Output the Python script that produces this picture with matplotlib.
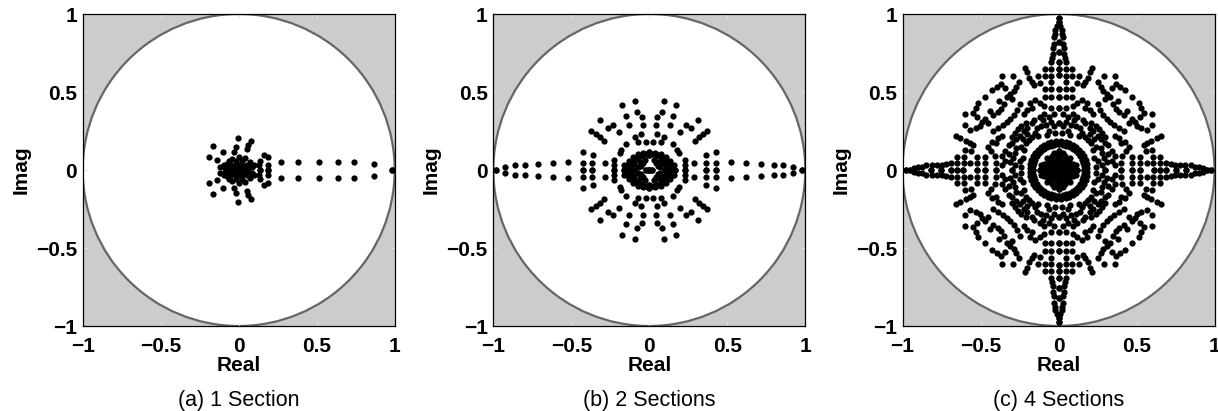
import numpy as np
import matplotlib
matplotlib.use("Agg")
import matplotlib.pyplot as plt
from matplotlib.patches import Circle

plt.rcParams['font.family'] = ['Liberation Sans', 'DejaVu Sans']

# ---------------- data ----------------
# Panel (a): poles with Imag >= 0 (conjugates are mirrored)
a_re = [0.271, 0.382, 0.515, 0.637, 0.739, 0.865, 0.985,
        -0.006, 0.077, 0.062, 0.051, -0.017, -0.162, -0.028, -0.103, -0.188,
        -0.141, -0.092, -0.120, 0.137, 0.190, 0.132, 0.190, 0.190, 0.137,
        0.035, 0.025, 0.000, -0.025, -0.035,
        0.060, 0.050, 0.020, -0.020, -0.050, -0.060,
        0.085, 0.070, 0.040, 0.000, -0.045, -0.075, -0.085,
        0.010, -0.010, 0.000, 0.100, -0.065, 0.165]
a_im = [0.053, 0.053, 0.053, 0.053, 0.053, 0.040, 0.000,
        0.205, 0.188, 0.162, 0.137, 0.145, 0.152, 0.115, 0.115, 0.081,
        0.066, 0.034, 0.017, 0.056, 0.081, 0.030, 0.034, 0.002, 0.002,
        0.005, 0.025, 0.035, 0.025, 0.005,
        0.010, 0.035, 0.057, 0.057, 0.035, 0.010,
        0.020, 0.050, 0.075, 0.085, 0.070, 0.040, 0.010,
        0.012, 0.012, 0.000, 0.030, 0.060, 0.098]

# Panel (b): poles in the first quadrant (pattern is symmetric in both axes)
b_re = [0.094, 0.173, 0.079, 0.152, 0.047, 0.314, 0.130, 0.233, 0.265, 0.040,
        0.372, 0.344, 0.318, 0.195, 0.051, 0.094, 0.293, 0.179, 0.190, 0.073,
        0.024, 0.426, 0.361, 0.150,
        0.521, 0.618, 0.714, 0.799, 0.859, 0.923, 0.980,
        0.426, 0.365, 0.426, 0.365, 0.286, 0.229, 0.229, 0.229,
        0.150, 0.145, 0.130, 0.106, 0.075, 0.039, 0.000,
        0.100, 0.095, 0.075, 0.045, 0.020,
        0.070, 0.060, 0.030, 0.000, 0.020, 0.125, 0.160,
        0.055, 0.040, 0.120, 0.115, 0.100, 0.075, 0.040, 0.000, 0.165]
b_im = [0.442, 0.417, 0.372, 0.348, 0.338, 0.320, 0.288, 0.288, 0.271, 0.288,
        0.252, 0.231, 0.214, 0.246, 0.231, 0.214, 0.186, 0.128, 0.111, 0.180,
        0.180, 0.113, 0.094, 0.165,
        0.049, 0.047, 0.038, 0.034, 0.030, 0.021, 0.000,
        0.047, 0.047, 0.000, 0.000, 0.043, 0.064, 0.030, 0.000,
        0.000, 0.030, 0.058, 0.081, 0.100, 0.111, 0.115,
        0.000, 0.040, 0.070, 0.090, 0.100,
        0.020, 0.050, 0.065, 0.000, 0.000, 0.010, 0.035,
        0.025, 0.045, 0.000, 0.035, 0.065, 0.090, 0.105, 0.095, 0.000]

# Panel (c): poles in the first quadrant (pattern is symmetric in both axes)
c_re = [0.010, 0.030, 0.020, 0.050, 0.060, 0.010, 0.080, 0.050, 0.070, 0.100,
        0.010, 0.090, 0.040, 0.120, 0.000, 0.060, 0.030,
        0.000, 0.040, 0.000, 0.080, 0.000, 0.110, 0.030, 0.075,
        0.165, 0.163, 0.159, 0.151, 0.140, 0.126, 0.110, 0.092, 0.072, 0.051, 0.029, 0.006,
        0.185, 0.181, 0.174, 0.163, 0.150, 0.133, 0.114, 0.093, 0.069, 0.045, 0.019,
        0.000, 0.030, 0.050, 0.080, 0.100, 0.060, 0.030, 0.090, 0.120, 0.020, 0.060,
        0.300, 0.280, 0.310, 0.290, 0.320, 0.340, 0.360, 0.360, 0.340, 0.240, 0.250,
        0.190, 0.170, 0.210, 0.200, 0.230, 0.150, 0.240, 0.220, 0.250, 0.130, 0.220,
        0.140, 0.270, 0.170, 0.300,
        0.260, 0.280, 0.240, 0.300, 0.210, 0.320, 0.160, 0.200, 0.270, 0.110, 0.280,
        0.075, 0.225,
        0.203, 0.186, 0.171, 0.256, 0.271, 0.368, 0.342, 0.310, 0.427, 0.300,
        0.150, 0.182, 0.203, 0.267, 0.288, 0.350, 0.380, 0.370,
        0.215, 0.160, 0.285, 0.330, 0.395, 0.120, 0.170, 0.220, 0.310, 0.250,
        0.360, 0.290, 0.120, 0.130,
        0.630, 0.590, 0.566, 0.566, 0.530, 0.551, 0.523, 0.490, 0.513, 0.455,
        0.449, 0.427, 0.385, 0.385, 0.353, 0.420, 0.440, 0.390, 0.470,
        0.655, 0.545, 0.505, 0.470, 0.530, 0.430, 0.400, 0.360, 0.330, 0.420,
        0.600, 0.600, 0.560, 0.600]
c_im = [0.010, 0.020, 0.050, 0.040, 0.010, 0.070, 0.020, 0.070, 0.050, 0.010,
        0.100, 0.040, 0.090, 0.000, 0.120, 0.060, 0.035,
        0.000, 0.000, 0.040, 0.000, 0.080, 0.030, 0.110, 0.075,
        0.000, 0.023, 0.045, 0.067, 0.087, 0.106, 0.123, 0.137, 0.148, 0.157, 0.162, 0.165,
        0.013, 0.038, 0.063, 0.087, 0.109, 0.129, 0.146, 0.160, 0.172, 0.180, 0.184,
        0.300, 0.280, 0.310, 0.290, 0.320, 0.340, 0.360, 0.360, 0.340, 0.240, 0.250,
        0.000, 0.030, 0.050, 0.080, 0.100, 0.060, 0.030, 0.090, 0.120, 0.020, 0.060,
        0.190, 0.210, 0.170, 0.230, 0.200, 0.240, 0.150, 0.250, 0.220, 0.220, 0.130,
        0.270, 0.140, 0.300, 0.170,
        0.260, 0.240, 0.280, 0.210, 0.300, 0.160, 0.320, 0.270, 0.200, 0.280, 0.110,
        0.225, 0.075,
        0.630, 0.590, 0.566, 0.566, 0.530, 0.551, 0.523, 0.490, 0.513, 0.455,
        0.449, 0.427, 0.385, 0.385, 0.353, 0.420, 0.440, 0.390,
        0.655, 0.545, 0.505, 0.470, 0.530, 0.430, 0.400, 0.360, 0.330, 0.420,
        0.600, 0.600, 0.560, 0.600,
        0.203, 0.186, 0.171, 0.256, 0.271, 0.368, 0.342, 0.310, 0.427, 0.300,
        0.150, 0.182, 0.203, 0.267, 0.288, 0.350, 0.380, 0.370, 0.470,
        0.215, 0.160, 0.285, 0.330, 0.395, 0.120, 0.170, 0.220, 0.310, 0.250,
        0.360, 0.290, 0.120, 0.130]
# Panel (c) spoke along the imaginary axis: offset (real) and distance (imag);
# the same spoke lies along the real axis
spoke_off = [0.000, 0.000, 0.012, 0.020, 0.020, 0.030, 0.000, 0.030, 0.035, 0.000,
             0.035, 0.040, 0.000, 0.045, 0.000, 0.045, 0.085, 0.000, 0.045, 0.085,
             0.045, 0.000, 0.045, 0.085, 0.000, 0.045, 0.085, 0.045, 0.000, 0.090]
spoke_pos = [0.975, 0.950, 0.925, 0.900, 0.875, 0.850, 0.820, 0.810, 0.780, 0.755,
             0.745, 0.720, 0.690, 0.690, 0.650, 0.650, 0.650, 0.610, 0.605, 0.605,
             0.565, 0.520, 0.520, 0.520, 0.470, 0.470, 0.470, 0.400, 0.400, 0.410]

captions = ["(a) 1 Section", "(b) 2 Sections", "(c) 4 Sections"]
ticks = [-1, -0.5, 0, 0.5, 1]
tick_labels = ["\u22121", "\u22120.5", "0", "0.5", "1"]


def quad(re, im):
    re = np.asarray(re); im = np.asarray(im)
    return (np.concatenate([re, -re, re, -re]),
            np.concatenate([im, im, -im, -im]))


ar = np.asarray(a_re); ai = np.asarray(a_im)
pa = (np.concatenate([ar, ar]), np.concatenate([ai, -ai]))
pb = quad(b_re, b_im)
pc = quad(list(c_re) + spoke_off + spoke_pos, list(c_im) + spoke_pos + spoke_off)

fig = plt.figure(figsize=(12.18, 4.11), dpi=100)
lefts = [82.7, 493.3, 902.5]
W, H = 1218.0, 411.0
for k, (pts, cap) in enumerate(zip([pa, pb, pc], captions)):
    ax = fig.add_axes([lefts[k] / W, (H - 326) / H, 312 / W, 312 / H])
    ax.set_facecolor('#cccccc')
    ax.add_patch(Circle((0, 0), 1.0, facecolor='white', edgecolor='#666666',
                        lw=1.6, zorder=1))
    ax.plot(pts[0], pts[1], 'o', color='black', ms=4.5, mec='black', mew=0,
            zorder=3)
    ax.set_xlim(-1, 1)
    ax.set_ylim(-1, 1)
    ax.set_xticks(ticks)
    ax.set_yticks(ticks)
    ax.set_xticklabels(tick_labels, fontweight='bold', fontsize=15)
    ax.set_yticklabels(tick_labels, fontweight='bold', fontsize=15)
    ax.tick_params(direction='in', length=3, color='#e6e6e6',
                   top=True, right=True)
    ax.tick_params(axis='x', pad=8)
    ax.tick_params(axis='y', pad=4)
    for s in ax.spines.values():
        s.set_linewidth(0.9)
        s.set_zorder(5)
    ax.set_xlabel('Real', fontweight='bold', fontsize=15, labelpad=0)
    ax.set_ylabel('Imag', fontweight='bold', fontsize=15, labelpad=4)
    fig.text((lefts[k] + 156) / W, 1 - 400 / H, cap, ha='center', va='center',
             fontsize=15.5)

fig.savefig('out.png', dpi=100)
